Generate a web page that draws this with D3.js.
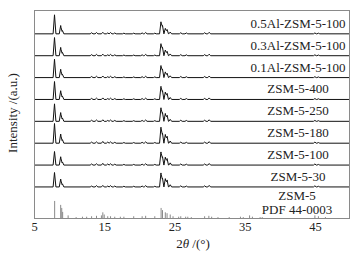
<!DOCTYPE html>
<html><head><meta charset="utf-8">
<script src="https://cdn.jsdelivr.net/npm/d3@7"></script>
<style>html,body{margin:0;padding:0;background:#fff}svg{display:block}text{font-family:"Liberation Serif","Times New Roman",serif}</style>
</head><body>
<svg id="c" width="360" height="255"></svg>
<script>
// ---- data ----
const xTicks = [5, 15, 25, 35, 45];
const samples = ["ZSM-5-30","ZSM-5-100","ZSM-5-180","ZSM-5-250","ZSM-5-400","0.1Al-ZSM-5-100","0.3Al-ZSM-5-100","0.5Al-ZSM-5-100"];
const peakPos = [7.92, 8.80, 9.05, 13.2, 13.9, 14.8, 15.5, 15.9, 16.5, 17.8, 19.2, 20.4, 20.9, 22.2, 23.08, 23.3, 23.7, 23.95, 24.4, 25.9, 26.7, 29.3, 29.95, 45.0, 45.5];
const int_30   = [66, 36, 14, 4, 6, 7, 4, 6, 4, 3, 3, 4, 6, 3, 64, 40, 38, 32, 10, 5, 4, 5, 7, 5, 3];
const int_100  = [62, 38, 14, 5, 6, 8, 5, 6, 4, 3, 3, 4, 6, 3, 60, 38, 36, 30, 10, 5, 4, 5, 7, 5, 3];
const int_180  = [90, 42, 16, 5, 6, 8, 5, 6, 4, 3, 3, 4, 6, 3, 73, 45, 40, 32, 10, 5, 4, 5, 7, 5, 3];
const int_250  = [80, 40, 15, 5, 6, 7, 4, 6, 4, 3, 3, 4, 6, 3, 62, 40, 36, 28, 9, 5, 4, 5, 7, 4, 3];
const int_400  = [82, 40, 15, 5, 6, 7, 4, 6, 4, 3, 3, 4, 6, 3, 60, 40, 34, 28, 9, 5, 4, 5, 7, 4, 3];
const int_01Al = [84, 38, 15, 5, 6, 7, 4, 6, 4, 3, 3, 4, 6, 3, 55, 38, 26, 20, 8, 5, 4, 5, 7, 4, 3];
const int_03Al = [83, 38, 15, 5, 6, 7, 4, 6, 4, 3, 3, 4, 6, 3, 55, 38, 26, 20, 8, 5, 4, 5, 7, 4, 3];
const int_05Al = [87, 38, 15, 5, 6, 7, 4, 6, 4, 3, 3, 4, 6, 3, 55, 38, 25, 20, 8, 5, 4, 5, 7, 4, 3];
const sampleInts = [int_30, int_100, int_180, int_250, int_400, int_01Al, int_03Al, int_05Al];
const pdfPos = [7.94, 8.80, 8.95, 9.08, 9.86, 11.0, 11.9, 12.5, 13.2, 13.9, 14.6, 14.8, 15.0, 15.5, 15.9, 16.5, 17.3, 17.8, 19.2, 20.4, 20.9, 22.2, 23.1, 23.3, 23.7, 23.95, 24.4, 24.8, 25.6, 25.9, 26.6, 26.9, 27.4, 29.3, 29.9, 30.3, 31.2, 32.8, 34.4, 34.8, 35.7, 36.1, 37.2, 37.5, 45.0, 45.5, 46.5];
const pdfInt = [78, 60, 46, 28, 12, 4, 6, 6, 8, 10, 12, 26, 16, 8, 8, 6, 6, 6, 8, 8, 10, 8, 46, 36, 26, 22, 16, 8, 6, 8, 6, 6, 4, 8, 10, 6, 4, 4, 6, 4, 12, 6, 4, 4, 12, 8, 4];
const pdfLabel = ["ZSM-5", "PDF 44-0003"];
const xTitle = ["2", "θ", " /(°)"];
const yTitle = "Intensity /(a.u.)";

// ---- layout ----
const L = 34, R = 350, T = 10, B = 218;
const spacing = 100, base0 = 142, hw = 0.2;
const svg = d3.select("#c");
const x = d3.scaleLinear().domain([5, 50]).range([L, R]);
const y = d3.scaleLinear().domain([0, 951]).range([B, T]);

// reference sticks
svg.append("g").selectAll("line").data(pdfPos).join("line")
  .attr("x1", d => x(d)).attr("x2", d => x(d))
  .attr("y1", y(0)).attr("y2", (d, i) => y(pdfInt[i]))
  .attr("stroke", "#8a8a8a").attr("stroke-width", 1);

// patterns
function profile(ints, off) {
  const xs = new Set([5, 50]);
  peakPos.forEach(p => { xs.add(p - hw); xs.add(p); xs.add(p + hw); });
  const arr = Array.from(xs).sort((a, b) => a - b);
  return arr.map(xv => {
    let s = 0;
    peakPos.forEach((p, k) => { const d = Math.abs(xv - p); if (d < hw) s += ints[k] * (1 - d / hw); });
    return [xv, off + s];
  });
}
const line = d3.line().x(d => x(d[0])).y(d => y(d[1]));
const g = svg.append("g");
samples.forEach((name, i) => {
  const off = base0 + i * spacing;
  g.append("path").attr("d", line(profile(sampleInts[i], off)))
    .attr("fill", "none").attr("stroke", "#111").attr("stroke-width", 1)
    .attr("stroke-linejoin", "round");
  g.append("text").attr("x", 298).attr("y", y(off) - 6).attr("text-anchor", "middle")
    .attr("font-size", 13).attr("fill", "#222").text(name);
});
pdfLabel.forEach((t, i) => {
  svg.append("text").attr("x", 297).attr("y", 200 + i * 14).attr("text-anchor", "middle")
    .attr("font-size", 13).attr("fill", "#222").text(t);
});

// frame
svg.append("rect").attr("x", L + 0.5).attr("y", T + 0.5).attr("width", R - L - 1).attr("height", B - T)
  .attr("fill", "none").attr("stroke", "#8a8a8a").attr("stroke-width", 1);

// x axis
const ax = svg.append("g").attr("transform", `translate(0,${B})`)
  .call(d3.axisBottom(x).tickValues(xTicks).tickSize(0).tickPadding(4).tickFormat(d3.format("d")));
ax.select(".domain").remove();
ax.selectAll("text").attr("font-family", "Liberation Serif").attr("font-size", 12.5).attr("fill", "#222");

const xt = svg.append("text").attr("x", 193).attr("y", 248).attr("text-anchor", "middle")
  .attr("font-size", 13).attr("fill", "#222");
xTitle.forEach((t, i) => xt.append("tspan").attr("font-style", i === 1 ? "italic" : "normal").text(t));

svg.append("text").attr("transform", "translate(17,113) rotate(-90)").attr("text-anchor", "middle")
  .attr("font-size", 13).attr("fill", "#222").text(yTitle);
</script>
</body></html>
